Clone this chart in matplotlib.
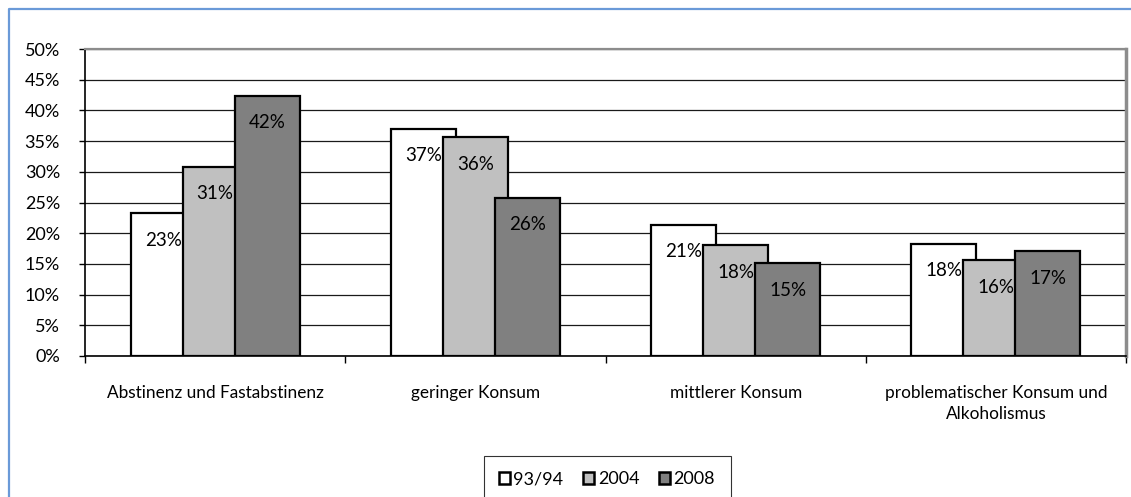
import numpy as np
import matplotlib
matplotlib.use('Agg')
import matplotlib.pyplot as plt
from matplotlib.patches import Patch
from matplotlib.lines import Line2D

plt.rcParams['font.family'] = ['Lato', 'DejaVu Sans']

# data (percent)
categories = ['Abstinenz und Fastabstinenz', 'geringer Konsum', 'mittlerer Konsum',
              'problematischer Konsum und\nAlkoholismus']
series = ['93/94', '2004', '2008']
v_9394 = [23.3, 37.0, 21.4, 18.3]
v_2004 = [30.8, 35.6, 18.0, 15.6]
v_2008 = [42.4, 25.8, 15.1, 17.1]
labels_9394 = ['23%', '37%', '21%', '18%']
labels_2004 = ['31%', '36%', '18%', '16%']
labels_2008 = ['42%', '26%', '15%', '17%']

values = [v_9394, v_2004, v_2008]
labels = [labels_9394, labels_2004, labels_2008]
colors = ['white', '#c0c0c0', '#808080']

fig = plt.figure(figsize=(11.31, 4.97), dpi=100)
ax = fig.add_axes([85/1131, 1 - 356/497, (1126-85)/1131, (356-49)/497])

x = np.arange(len(categories)) + 0.5
offsets = [-0.2, 0.0, 0.2]
for i in range(3):
    ax.bar(x + offsets[i], values[i], width=0.25, color=colors[i],
           edgecolor='black', linewidth=1.6, zorder=2 + i)
for i in range(3):
    for xi, v, lab in zip(x + offsets[i], values[i], labels[i]):
        ax.annotate(lab, (xi, v), xytext=(0, -19.5), textcoords='offset points',
                    ha='center', va='center', fontsize=13.5, zorder=10)

ax.set_xlim(0, 4)
ax.set_ylim(0, 50)
ax.set_yticks(np.arange(0, 51, 5))
ax.set_yticklabels([f'{t}%' for t in range(0, 51, 5)], fontsize=13)
ax.yaxis.grid(True, color='#1a1a1a', linewidth=0.9, zorder=0)
ax.set_axisbelow(True)
ax.tick_params(axis='y', length=4, width=1, pad=14)

ax.set_xticks(x)
ax.set_xticklabels(categories, fontsize=12.4, linespacing=1.4, va='top')
ax.tick_params(axis='x', which='major', length=0, pad=21)
ax.set_xticks(np.arange(0, 5), minor=True)
ax.tick_params(axis='x', which='minor', length=5, width=1)

for s in ['left', 'bottom']:
    ax.spines[s].set_color('black')
    ax.spines[s].set_linewidth(1.2)
ax.spines['top'].set_color('#8c8c8c')
ax.spines['top'].set_linewidth(1.6)
ax.spines['right'].set_color('#8c8c8c')
ax.spines['right'].set_linewidth(2.5)

handles = [Patch(facecolor=c, edgecolor='black', linewidth=1.8) for c in colors]
fig.legend(handles, series, loc='upper center', bbox_to_anchor=(607/1131, 1 - 456/497),
           ncol=3, fontsize=13, frameon=True, fancybox=False, edgecolor='black',
           handlelength=0.6, handleheight=0.6, handletextpad=0.2, columnspacing=1.1,
           borderpad=0.85, borderaxespad=0)
fig.legends[0].get_frame().set_linewidth(0.8)

# outer chart border (cropped on right and bottom)
fig.add_artist(Line2D([9/1131, 9/1131, 1.0], [0.0, 1 - 9/497, 1 - 9/497],
                      transform=fig.transFigure, color='#6a9ad8', linewidth=1.6))

fig.savefig('out.png', dpi=100)
